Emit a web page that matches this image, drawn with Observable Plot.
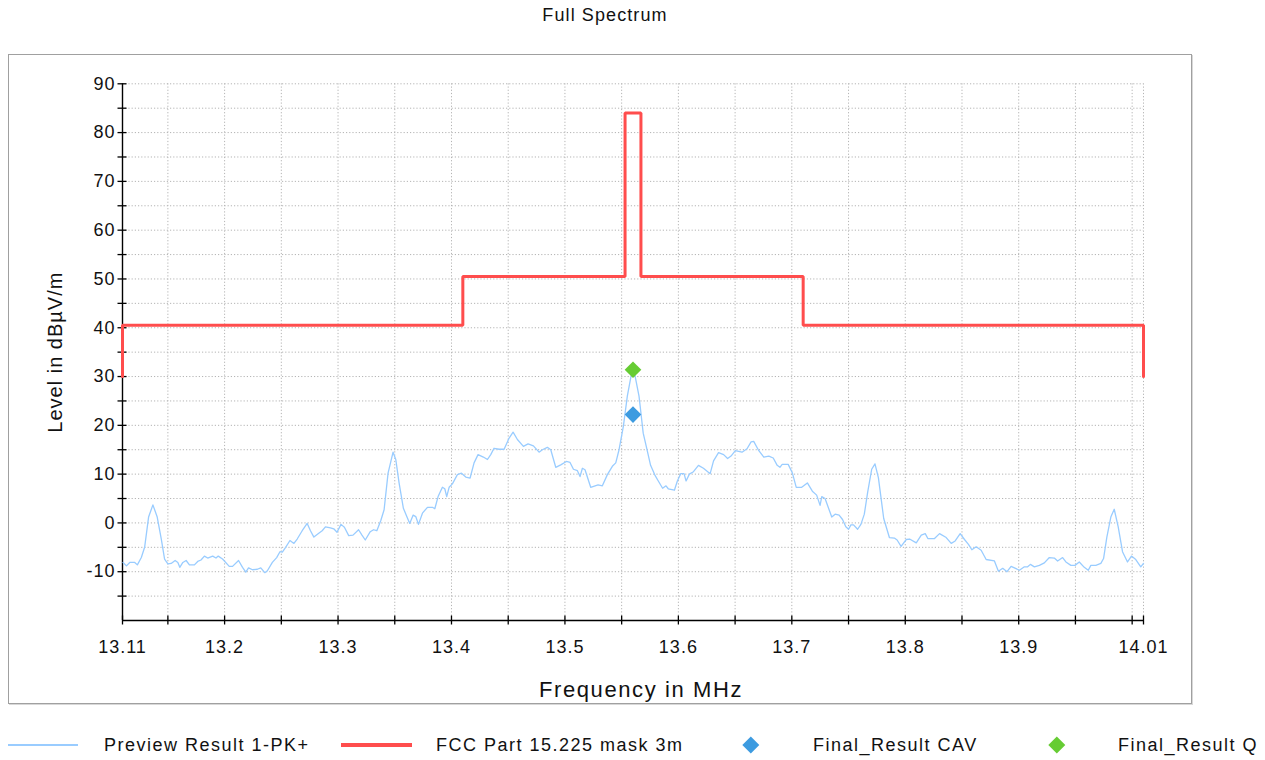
<!DOCTYPE html>
<html><head><meta charset="utf-8">
<script src="https://cdn.jsdelivr.net/npm/d3@7"></script>
<script src="https://cdn.jsdelivr.net/npm/@observablehq/plot@0.6"></script>
<style>
body{margin:0;background:#fff;font-family:"Liberation Sans",Arial,sans-serif;color:#111;}
#title{height:54px;width:1210px;text-align:center;font-size:18px;letter-spacing:1.1px;line-height:20px;padding-top:5px;box-sizing:border-box;}
#frame{margin-left:8px;width:1184px;height:650px;border:1px solid #a0a0a0;box-sizing:border-box;box-shadow:1px 1px 0 #d8d8d8;}
#frame svg{display:block;}
#frame svg text{letter-spacing:1px;}
#frame svg text.xlab{letter-spacing:1.6px;}
#legend{position:relative;height:56px;width:1265px;}
.sw{position:absolute;}
.lbl{position:absolute;top:31px;font-size:18px;letter-spacing:1.5px;line-height:20px;white-space:nowrap;}
</style></head><body>
<div id="title">Full Spectrum</div>
<div id="frame"></div>
<div id="legend"></div>
<script>
// ---------- data ----------
const traceFreq = [
13.1105,13.1135,13.1164,13.1208,13.1231,13.1266,13.1295,13.1330,13.1368,13.1406,13.1442,13.1471,13.1500,13.1529,13.1564,13.1588,13.1605,13.1632,13.1661,13.1690,
13.1734,13.1763,13.1792,13.1822,13.1851,13.1895,13.1924,13.1944,13.1982,13.2041,13.2070,13.2123,13.2158,13.2187,13.2211,13.2246,13.2289,13.2319,13.2354,13.2377,
13.2421,13.2459,13.2488,13.2509,13.2538,13.2576,13.2611,13.2640,13.2684,13.2728,13.2757,13.2787,13.2830,13.2860,13.2889,13.2933,13.2962,13.2991,13.3026,13.3056,
13.3094,13.3132,13.3181,13.3211,13.3240,13.3284,13.3313,13.3342,13.3377,
13.3406,13.3441,13.3485,13.3509,13.3538,13.3576,13.3606,13.3632,13.3662,13.3685,13.3709,13.3744,13.3788,13.3832,13.3853,13.3882,13.3920,13.3941,13.3958,13.3979,
13.4008,13.4052,13.4088,13.4126,13.4164,13.4199,13.4234,13.4281,13.4317,13.4346,13.4375,13.4420,13.4464,13.4508,13.4543,13.4581,13.4634,13.4675,13.4722,13.4772,
13.4801,13.4845,13.4875,13.4919,13.4963,13.5013,13.5045,13.5075,13.5110,13.5133,13.5154,13.5177,13.5227,13.5292,13.5330,13.5374,13.5418,13.5448,13.5477,13.5515,
13.5550,13.5586,13.5600,13.5615,13.5653,
13.5690,13.5720,13.5755,13.5793,13.5823,13.5861,13.5891,13.5911,13.5965,13.5991,13.6021,13.6050,13.6068,13.6097,13.6133,13.6177,13.6221,13.6280,13.6310,13.6354,
13.6399,13.6434,13.6464,13.6502,13.6561,13.6605,13.6641,13.6664,13.6709,13.6753,13.6797,13.6836,13.6871,13.6895,13.6915,13.6968,13.7004,13.7039,13.7087,13.7137,
13.7181,13.7219,13.7249,13.7264,13.7293,13.7352,13.7382,13.7417,13.7447,13.7476,13.7500,13.7521,13.7544,13.7580,13.7609,13.7639,13.7668,13.7704,13.7733,13.7763,
13.7786,13.7810,13.7860,13.7904,13.7928,13.7963,
13.8009,13.8038,13.8097,13.8141,13.8176,13.8199,13.8258,13.8302,13.8361,13.8405,13.8440,13.8484,13.8522,13.8557,13.8587,13.8625,13.8669,13.8713,13.8786,13.8821,
13.8859,13.8897,13.8933,13.9006,13.9050,13.9079,13.9103,13.9138,13.9182,13.9226,13.9270,13.9314,13.9343,13.9387,13.9416,13.9460,13.9496,13.9534,13.9578,13.9613,
13.9636,13.9680,13.9724,13.9748,13.9777,13.9812,13.9842,13.9877,13.9915,13.9959,13.9994,14.0032,14.0076,14.0100
];
const traceLevel = [
-8.1,-8.8,-8.1,-8.1,-8.6,-7.1,-5.0,1.2,3.7,1.2,-3.3,-7.4,-8.4,-8.3,-7.7,-8.1,-9.1,-8.1,-7.7,-8.6,
-8.6,-7.9,-7.6,-6.8,-7.2,-6.8,-7.2,-6.8,-7.4,-8.9,-8.9,-7.7,-9.1,-10.1,-9.2,-9.6,-9.5,-9.2,-10.2,-9.8,
-8.1,-7.1,-5.9,-6.0,-5.0,-3.6,-4.2,-3.3,-1.6,-0.1,-1.6,-2.9,-2.1,-1.6,-0.8,-1.0,-1.2,-1.9,-0.3,-0.9,
-2.6,-2.5,-1.4,-2.5,-3.5,-1.8,-1.4,-1.6,0.5,
2.7,10.2,14.5,13.0,8.2,3.0,1.3,-0.1,1.6,1.3,-0.3,2.0,3.2,3.2,2.9,5.4,7.3,7.0,5.4,7.3,
8.0,9.9,10.2,9.4,9.2,12.3,14.0,13.5,13.0,14.0,15.3,15.1,15.1,17.4,18.6,17.1,15.7,16.2,15.8,14.5,
15.0,15.5,15.0,11.4,11.9,12.6,12.4,11.0,10.7,9.5,11.2,10.9,7.3,7.8,7.6,9.9,11.6,12.3,15.0,19.8,
26.0,30.5,31.3,30.5,26.0,
18.4,15.4,11.8,9.8,8.6,7.1,7.6,7.0,6.7,8.6,10.1,10.1,8.6,10.0,10.5,11.8,11.2,10.1,12.7,14.4,
14.0,13.2,13.7,14.8,14.5,15.2,16.6,16.7,14.8,13.5,13.7,13.3,11.8,11.4,12.0,12.0,10.3,7.3,7.3,8.2,
6.5,5.7,3.6,5.4,5.0,1.2,1.8,1.6,0.7,-0.8,-1.3,-0.4,-0.4,-1.3,-0.3,1.8,6.2,11.0,12.1,9.3,
5.2,0.9,-3.0,-3.1,-3.5,-4.8,
-3.4,-3.3,-4.1,-2.5,-2.2,-3.2,-3.2,-2.2,-3.0,-4.2,-3.7,-2.2,-3.4,-4.4,-5.5,-4.9,-5.6,-7.5,-7.8,-9.9,
-9.3,-10.0,-8.9,-9.7,-9.0,-9.0,-8.5,-9.0,-8.7,-8.2,-7.1,-7.2,-7.8,-7.1,-8.0,-8.7,-8.7,-8.0,-9.1,-9.7,
-8.7,-8.7,-8.3,-7.3,-2.9,1.2,2.8,-0.8,-5.9,-8.0,-6.8,-7.5,-9.0,-8.3
];
// FCC Part 15.225 mask (step vertices)
const maskFreq  = [13.11, 13.11, 13.41, 13.41, 13.553, 13.553, 13.567, 13.567, 13.71, 13.71, 14.01, 14.01];
const maskLevel = [30,    40.5,  40.5,  50.5,  50.5,   84,     84,     50.5,   50.5,  40.5,  40.5,  30];
// final measurements
const finalFreq = [13.56];
const finalCAV  = [22.2];
const finalQ    = [31.4];
// axes
const yTickValues  = [-15,-10,-5,0,5,10,15,20,25,30,35,40,45,50,55,60,65,70,75,80,85,90];
const yLabelValues = [-10,0,10,20,30,40,50,60,70,80,90];
const xTickValues  = [13.11,13.15,13.2,13.25,13.3,13.35,13.4,13.45,13.5,13.55,13.6,13.65,13.7,13.75,13.8,13.85,13.9,13.95,14.0,14.01];
const xLabelValues = [13.11,13.2,13.3,13.4,13.5,13.6,13.7,13.8,13.9,14.01];
const xGridValues  = [13.15,13.2,13.25,13.3,13.35,13.4,13.45,13.5,13.55,13.6,13.65,13.7,13.75,13.8,13.85,13.9,13.95,14.0,14.01];
const yGridValues  = yTickValues;
const legendLabels = ["Preview Result 1-PK+", "FCC Part 15.225 mask 3m", "Final_Result CAV", "Final_Result Q"];
const titleText = "Full Spectrum";
const xLabelText = "Frequency in MHz";
const yLabelText = "Level in dBµV/m";

// ---------- styles ----------
const C_TRACE = "#99ccff", C_MASK = "#ff4d4d", C_CAV = "#3d9be0", C_Q = "#66cc33";
const FONT = '"Liberation Sans", Arial, sans-serif';

document.getElementById("title").textContent = titleText;

const idx = d3.range(traceFreq.length);
const midx = d3.range(maskFreq.length);
const gridStyle = {stroke: "#b4b4b4", strokeOpacity: 1, strokeWidth: 1, strokeDasharray: "1.2,2"};

const chart = Plot.plot({
  width: 1182, height: 648,
  marginLeft: 113, marginRight: 48, marginTop: 28.3, marginBottom: 83,
  x: {domain: [13.11, 14.01]},
  y: {domain: [-20, 90]},
  style: {fontFamily: FONT, background: "white", color: "#111", overflow: "visible"},
  marks: [
    Plot.gridX(xGridValues, gridStyle),
    Plot.gridY(yGridValues, gridStyle),
    Plot.ruleX([13.11], {stroke: "#000", strokeWidth: 1.4}),
    Plot.ruleY([-20], {stroke: "#000", strokeWidth: 1.4}),
    // tick marks only (crossing the axis line)
    Plot.axisY(yTickValues, {anchor: "left", tickSize: 9, dx: 4.5, stroke: "#000", strokeWidth: 1.3, fill: "none", label: null}),
    Plot.axisX(xTickValues, {anchor: "bottom", tickSize: 9, dy: -4.5, stroke: "#000", strokeWidth: 1.3, fill: "none", label: null}),
    // tick labels only
    Plot.axisY(yLabelValues, {anchor: "left", tickSize: 0, tickPadding: 7, fontSize: 18, tickFormat: d => String(d), label: null}),
    Plot.axisX(xLabelValues, {anchor: "bottom", tickSize: 0, tickPadding: 20, fontSize: 18, tickFormat: d => String(d), label: null}),
    Plot.line(idx, {x: i => traceFreq[i], y: i => traceLevel[i], stroke: C_TRACE, strokeWidth: 1.3}),
    Plot.line(midx, {x: i => maskFreq[i], y: i => maskLevel[i], stroke: C_MASK, strokeWidth: 3, strokeLinejoin: "miter"}),
    Plot.dot(finalFreq, {x: (d) => d, y: (d, i) => finalCAV[i], symbol: "diamond2", r: 7.5, fill: C_CAV, stroke: "none"}),
    Plot.dot(finalFreq, {x: (d) => d, y: (d, i) => finalQ[i], symbol: "diamond2", r: 7.5, fill: C_Q, stroke: "none"}),
    Plot.text([yLabelText], {frameAnchor: "left", rotate: -90, dx: -67, fontSize: 20, textAnchor: "middle", lineAnchor: "middle"}),
    Plot.text([xLabelText], {frameAnchor: "bottom", dx: 8, dy: 69, fontSize: 22, textAnchor: "middle", lineAnchor: "middle", className: "xlab"})
  ]
});
document.getElementById("frame").appendChild(chart);
// widen spacing of the x-axis title like the reference
chart.querySelectorAll("g[aria-label='text'] text").forEach(t => { if (t.textContent === xLabelText) t.style.letterSpacing = "1.6px"; });

// ---------- legend ----------
const legend = document.getElementById("legend");
const swatches = [
  {kind: "line", color: C_TRACE, left: 8, width: 70, thick: 1.5},
  {kind: "line", color: C_MASK, left: 341, width: 71, thick: 3.5},
  {kind: "diamond", color: C_CAV, cx: 751},
  {kind: "diamond", color: C_Q, cx: 1057}
];
const textLefts = [104, 436, 813, 1118];
legendLabels.forEach((lab, i) => {
  const s = swatches[i];
  const el = document.createElement("div");
  el.className = "sw";
  if (s.kind === "line") {
    Object.assign(el.style, {left: s.left + "px", width: s.width + "px", top: (41 - s.thick / 2) + "px", height: s.thick + "px", background: s.color});
  } else {
    const a = 11.6;
    Object.assign(el.style, {left: (s.cx - a / 2) + "px", top: (41 - a / 2) + "px", width: a + "px", height: a + "px", background: s.color, transform: "rotate(45deg)"});
  }
  legend.appendChild(el);
  const t = document.createElement("div");
  t.className = "lbl";
  t.style.left = textLefts[i] + "px";
  t.textContent = lab;
  legend.appendChild(t);
});
</script>
</body></html>
